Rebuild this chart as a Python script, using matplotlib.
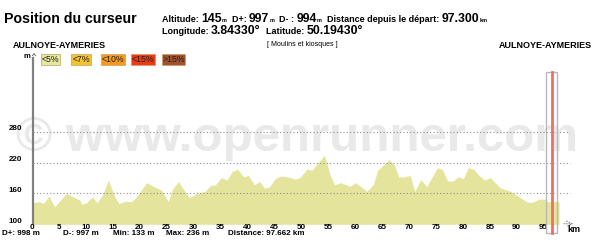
import matplotlib
matplotlib.use('Agg')
import matplotlib.pyplot as plt
from matplotlib.patches import Rectangle

# profile data (km, m)
km = [0, 1.2, 2.0, 3.0, 4.0, 6.2, 8.7, 9.0, 9.9, 11.0, 11.9, 12.9, 14.0, 15.2, 16.0,
      17.1, 18.3, 19.2, 21.1, 22.3, 23.9, 25.1, 25.9, 27.0, 27.8, 29.0, 30.4, 31.3,
      31.9, 33.0, 33.8, 35.0, 36.0, 37.0, 38.0, 39.1, 40.0, 41.1, 42.1, 43.0, 43.9,
      45.0, 46.1, 47.3, 48.7, 49.6, 50.9, 51.8, 52.7, 54.1, 55.2, 56.0, 57.1, 58.8,
      59.9, 62.0, 63.2, 64.0, 66.1, 67.1, 67.9, 68.9, 70.0, 70.9, 72.0, 73.1, 74.1,
      75.1, 76.0, 77.0, 78.0, 78.9, 79.9, 80.8, 81.8, 82.8, 83.9, 84.9, 86.7, 88.7,
      90.0, 91.8, 92.7, 94.0, 94.9, 95.5, 97.662]
elev = [142, 144, 141, 155, 134, 160, 147, 139, 142, 153, 142, 157, 186, 153, 140,
        145, 144, 153, 181, 174, 166, 144, 168, 183, 170, 152, 160, 163,
        163, 176, 176, 191, 186, 203, 207, 192, 195, 177, 183, 170, 173,
        189, 194, 192, 188, 191, 208, 205, 217, 234, 195, 177, 181, 174,
        181, 164, 178, 205, 226, 215, 192, 192, 195, 164, 187, 173, 192,
        210, 207, 184, 184, 192, 189, 210, 207, 195, 186, 191, 171, 164,
        155, 143, 143, 149, 149, 144, 144]

x_ticks = list(range(0, 100, 5))
y_ticks = [100, 160, 220, 280]
grid_levels = [160, 220, 280]
cursor_km = 96.3
cursor_box = (95.25, 97.3)

legend_labels = ['<5%', '<7%', '<10%', '<15%', '>15%']
legend_colors = ['#e6e69e', '#f2c232', '#f59a1c', '#ec3a12', '#a0522d']

header_line1 = [('Altitude: ', 'l'), ('145', 'v'), ('m', 'u'), ('  D+: ', 'l'), ('997', 'v'), ('m', 'u'),
                ('  D- : ', 'l'), ('994', 'v'), ('m', 'u'),
                ('  Distance depuis le départ: ', 'l'), ('97.300', 'v'), ('km', 'u')]
header_line2 = [('Longitude: ', 'l'), ('3.84330°', 'v'), ('  Latitude: ', 'l'), ('50.19430°', 'v')]

stats = [('D+: 998 m', 2), ('D-: 997 m', 63), ('Min: 133 m', 113), ('Max: 236 m', 166),
         ('Distance: 97.662 km', 228)]

plt.rcParams['font.family'] = ['Liberation Sans', 'DejaVu Sans']

W, H = 600, 246
fig = plt.figure(figsize=(W / 100, H / 100), dpi=100)

# axes: km 0 at x=33 px, 5.386 px/km ; 100 m at y=224.3 px, 0.514 px/m
px_km = 5.386
px_m = 0.514
left, right = 33, 585
bottom, top = 224.3, 58
ax = fig.add_axes([left / W, 1 - bottom / H, (right - left) / W, (bottom - top) / H])
ax.set_xlim(0, (right - left) / px_km)
ax.set_ylim(100, 100 + (bottom - top) / px_m)
ax.patch.set_alpha(0)

# watermark
fig.text(297 / W, 1 - 151 / H, '© www.openrunner.com', fontsize=35.5, fontweight='bold',
         color='#e9e9e9', ha='center', va='baseline', zorder=-1)

ax.fill_between(km, elev, 100, color='#e4e49c', lw=0, zorder=2)

grid_end = (570 - left) / px_km
for g in grid_levels:
    ax.plot([0, grid_end], [g, g], color='#909090', lw=0.8, ls=(0, (1, 2)), zorder=3)

for s in ['top', 'right', 'bottom']:
    ax.spines[s].set_visible(False)
ax.spines['left'].set_color('#808080')
ax.spines['left'].set_linewidth(1.6)
ax.set_xticks([])
ax.set_yticks([])
for t in x_ticks:
    ax.annotate(str(t), (t, 100), xytext=(-1, -3.5), textcoords='offset pixels', fontsize=5.8,
                fontweight='bold', ha='center', va='center', annotation_clip=False)
for t in y_ticks:
    ax.annotate(str(t), (0, t), xytext=(-11, 3), textcoords='offset pixels', fontsize=5.8,
                fontweight='bold', ha='right', va='center', annotation_clip=False)

# cursor
ax.add_patch(Rectangle((cursor_box[0], 83), cursor_box[1] - cursor_box[0], 314, fill=False,
                       ec='#b8b8b8', lw=1, clip_on=False, zorder=4))
ax.plot([cursor_km, cursor_km], [83, 397], color='#f07060', lw=2, clip_on=False, zorder=5)

# km arrow
ax.annotate('', xy=((576 - left) / px_km, 101), xytext=((561 - left) / px_km, 101),
            arrowprops=dict(arrowstyle='->', color='#808080', lw=0.7, ls=':'),
            annotation_clip=False)
fig.text(574 / W, 1 - 229 / H, 'km', fontsize=6.5, fontweight='bold', ha='center', va='center')

# y-axis unit
fig.text(30 / W, 1 - 57 / H, 'm', fontsize=5.5, fontweight='bold', ha='right', va='center')
fig.text(33.5 / W, 1 - 57 / H, '^', fontsize=6, ha='center', va='center')

# titles
fig.text(4 / W, 1 - 19 / H, 'Position du curseur', fontsize=10.2, fontweight='bold', va='center')

renderer = fig.canvas.get_renderer()


def draw_runs(runs, x0, yc):
    x = x0
    for txt, kind in runs:
        if kind == 'l':
            t = fig.text(x / W, 1 - yc / H, txt, fontsize=6.5, fontweight='bold', va='center')
        elif kind == 'v':
            t = fig.text(x / W, 1 - (yc - 0.5) / H, txt, fontsize=8.8, fontweight='bold', va='center')
        else:
            t = fig.text(x / W, 1 - (yc + 2) / H, txt, fontsize=4, fontweight='bold', va='center')
        x += t.get_window_extent(renderer).width


draw_runs(header_line1, 162, 19)
draw_runs(header_line2, 162, 31)

fig.text(13 / W, 1 - 45.5 / H, 'AULNOYE-AYMERIES', fontsize=6.5, fontweight='bold', va='center')
fig.text(592 / W, 1 - 45.5 / H, 'AULNOYE-AYMERIES', fontsize=6.5, fontweight='bold', va='center', ha='right')
fig.text(302 / W, 1 - 45 / H, '[ Moulins et kiosques ]', fontsize=5, va='center', ha='center')

# slope legend
box_x = [41, 71, 101, 131, 162]
box_w = [19, 20, 24, 24, 23]
for lab, col, bx, bw in zip(legend_labels, legend_colors, box_x, box_w):
    fig.patches.append(Rectangle((bx / W, 1 - 65 / H), bw / W, 11 / H, transform=fig.transFigure,
                                 fc=col, ec='#c8a060', lw=0.5))
    fig.text((bx + bw / 2) / W, 1 - 59.5 / H, lab, fontsize=6.3, ha='center', va='center', color='#222222')

# stats under the chart
for txt, sx in stats:
    fig.text(sx / W, 1 - 233.5 / H, txt, fontsize=5.8, fontweight='bold', va='center')

fig.savefig('out.png', dpi=100)
